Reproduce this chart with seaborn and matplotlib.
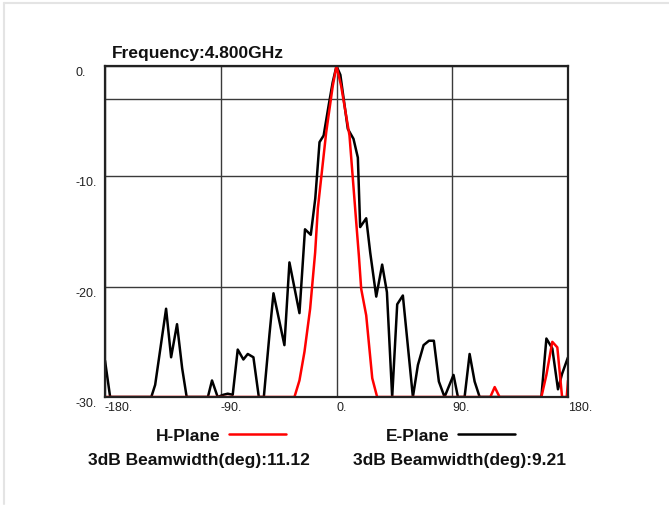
# Radiation pattern, 4.8 GHz, H-plane vs E-plane
import matplotlib
matplotlib.use('Agg')
import matplotlib.pyplot as plt
from matplotlib.lines import Line2D
import seaborn as sns

# angles (deg) and normalised gain (dB); -30 = floor of the plot
h_angle = [-180, -32.7, -28.8, -24.9, -20.5, -16.6, -14.5, -8, -2.9, 0, 3.6, 10.1,
           15.3, 17.4, 19.2, 23.1, 27.8, 31.6, 119.6, 123, 126.8, 159.3, 163.2,
           167.8, 171.7, 175.4, 179, 180]
h_gain = [-30, -30, -28.5, -25.9, -22, -16.9, -12.9, -6, -1.8, 0, -1.8, -6.3,
          -14.1, -17.2, -20.2, -22.6, -28.3, -30, -30, -29.1, -30, -30, -28,
          -25, -25.5, -30, -30, -28.5]

e_angle = [-180, -176, -144, -141, -132.5, -128.6, -124, -120, -116.5, -100, -96.8,
           -92.4, -88, -84.6, -80.7, -76.8, -72.4, -69, -64.6, -60.4, -56.5, -52.1,
           -49, -40.5, -36.6, -28.8, -24.5, -20, -16.5, -13.2, -10, -6, -3, 0, 3,
           8.8, 13.2, 16.6, 18.4, 23.1, 26.2, 30.9, 35.5, 39.2, 43.3, 47.2, 51.6,
           59.4, 63.3, 67.7, 71.9, 75.7, 79.6, 84, 91, 94.4, 99.6, 103.5, 107.4,
           111.3, 159.3, 163.2, 167.8, 172.2, 175.4, 180]
e_gain = [-26.7, -30, -30, -28.9, -22, -26.4, -23.4, -27.4, -30, -30, -28.5,
          -30, -29.8, -29.7, -29.8, -25.7, -26.6, -26.1, -26.4, -30, -30, -24.3,
          -20.6, -25.3, -17.8, -22.4, -14.8, -15.3, -12, -6.9, -6.3, -3.5, -1.5, 0, -0.8,
          -5.7, -6.6, -8.3, -14.6, -13.8, -16.9, -20.9, -18, -20.5, -30, -21.6, -20.8,
          -30, -27.1, -25.3, -24.9, -24.9, -28.6, -30, -28, -30, -30, -26.1, -28.6,
          -30, -30, -24.7, -25.6, -29.3, -27.9, -26.4]

x_ticks = [-180, -90, 0, 90, 180]
x_labels = ['-180.', '-90.', '0.', '90.', '180.']
y_ticks = [0, -3, -10, -20, -30]
y_labels = ['0.', '', '-10.', '-20.', '-30.']

title = 'Frequency:4.800GHz'
h_beam = '3dB Beamwidth(deg):11.12'
e_beam = '3dB Beamwidth(deg):9.21'

sns.set_style('white')
plt.rcParams['font.family'] = ['Liberation Sans', 'DejaVu Sans']

W, H = 669, 506
fig = plt.figure(figsize=(W / 100, H / 100), dpi=100)
ax = fig.add_axes([105 / W, 1 - 398 / H, 463 / W, 331 / H])

sns.lineplot(x=e_angle, y=e_gain, color='black', linewidth=1.8, sort=False,
             ax=ax, label='E-Plane')
sns.lineplot(x=h_angle, y=h_gain, color='red', linewidth=1.8, sort=False,
             ax=ax, label='H-Plane')

ax.set_xlim(-180, 180)
ax.set_ylim(-30, 0)
ax.set_xticks(x_ticks)
ax.set_xticklabels(x_labels)
ax.set_yticks(y_ticks)
ax.set_yticklabels(y_labels)
ax.grid(True, color='#3a3a3a', linewidth=1)
ax.set_axisbelow(True)
for s in ax.spines.values():
    s.set_color('#222222')
    s.set_linewidth(1.6)

ax.tick_params(axis='x', length=0, pad=3, labelsize=9, labelcolor='#222222')
ax.tick_params(axis='y', length=0, pad=21.3, labelsize=9, labelcolor='#222222')
plt.setp(ax.get_xticklabels(), ha='left')
plt.setp(ax.get_yticklabels(), ha='left', va='top')

txt = dict(fontsize=12.5, fontweight='bold', color='#111111')

# legend: label first, line after, two columns under the plot
handles, labels = ax.get_legend_handles_labels()
order = [labels.index('H-Plane'), labels.index('E-Plane')]
leg = ax.legend([handles[i] for i in order], [labels[i] for i in order],
                ncol=2, markerfirst=False, frameon=False,
                prop={'size': 12.5, 'weight': 'bold'},
                handlelength=3.28, handletextpad=0.46, columnspacing=5.8,
                borderpad=0, borderaxespad=0, loc='upper left',
                bbox_to_anchor=(156 / W, 1 - 429 / H), bbox_transform=fig.transFigure)
for t in leg.get_texts():
    t.set_color('#111111')

fig.text(112 / W, 1 - 58 / H, title, va='baseline', **txt)
fig.text(88 / W, 1 - 465 / H, h_beam, va='baseline', **txt)
fig.text(353 / W, 1 - 465 / H, e_beam, va='baseline', **txt)

# light grey frame on the top and left edge of the picture
fig.add_artist(Line2D([4 / W, 1], [1 - 4 / H, 1 - 4 / H], color='#e4e4e4', linewidth=1.5))
fig.add_artist(Line2D([4 / W, 4 / W], [1 - 4 / H, 1 / H], color='#e4e4e4', linewidth=1.5))

fig.savefig('out.png', dpi=100)
